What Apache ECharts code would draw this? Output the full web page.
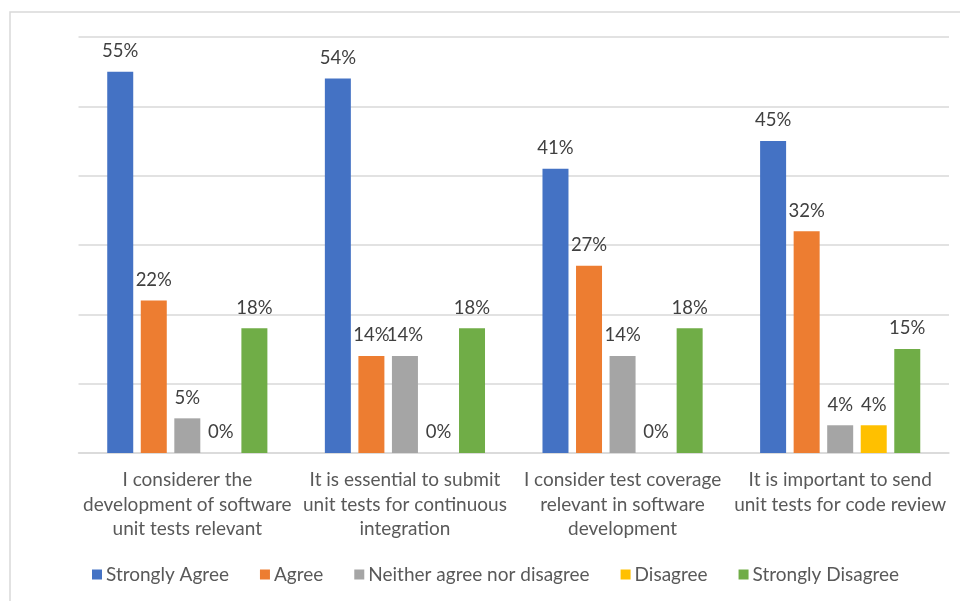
<!DOCTYPE html>
<html>
<head>
<meta charset="utf-8">
<script src="https://cdn.jsdelivr.net/npm/echarts@6/dist/echarts.min.js"></script>
<style>
  html, body { margin: 0; padding: 0; background: #ffffff; }
  #chart { width: 960px; height: 601px; }
</style>
</head>
<body>
<div id="chart"></div>
<script>
// Survey statements (x-axis categories)
const categories = [
  'I considerer the\ndevelopment of software\nunit tests relevant',
  'It is essential to submit\nunit tests for continuous\nintegration',
  'I consider test coverage\nrelevant in software\ndevelopment',
  'It is important to send\nunit tests for code review'
];

// Response shares in percent, one array per answer
const stronglyAgree    = [55, 54, 41, 45];
const agree            = [22, 14, 27, 32];
const neither          = [5, 14, 14, 4];
const disagree         = [0, 0, 0, 4];
const stronglyDisagree = [18, 18, 18, 15];

const seriesNames = ['Strongly Agree', 'Agree', 'Neither agree nor disagree', 'Disagree', 'Strongly Disagree'];
const seriesData = [stronglyAgree, agree, neither, disagree, stronglyDisagree];
const colors = ['#4472C4', '#ED7D31', '#A5A5A5', '#FFC000', '#70AD47'];

const FONT = 'Lato, "Open Sans", sans-serif';

const chart = echarts.init(document.getElementById('chart'), null, { renderer: 'canvas' });

chart.setOption({
  backgroundColor: '#ffffff',
  animation: false,
  color: colors,
  graphic: [{
    type: 'rect',
    shape: { x: 10, y: 12, width: 960, height: 600 },
    style: { fill: 'none', stroke: '#d9d9d9', lineWidth: 1.5 },
    silent: true,
    z: -10
  }],
  grid: { left: 78.5, right: 11, top: 37, bottom: 148, containLabel: false },
  legend: {
    top: 560,
    left: 87,
    itemWidth: 10,
    itemHeight: 10,
    itemGap: 31,
    icon: 'rect',
    textStyle: { fontFamily: FONT, fontSize: 19, color: '#595959', padding: [0, 0, 0, -1] },
    data: seriesNames
  },
  xAxis: {
    type: 'category',
    data: categories,
    axisLine: { lineStyle: { color: '#d9d9d9', width: 1.5 } },
    axisTick: { show: false },
    axisLabel: {
      interval: 0,
      margin: 15,
      fontFamily: FONT,
      fontSize: 19,
      lineHeight: 24.5,
      color: '#595959',
      align: 'center'
    }
  },
  yAxis: {
    type: 'value',
    min: 0,
    max: 60,
    interval: 10,
    axisLabel: { show: false },
    axisLine: { show: false },
    axisTick: { show: false },
    splitLine: { lineStyle: { color: '#d9d9d9', width: 1.5 } }
  },
  series: seriesNames.map((name, i) => ({
    name: name,
    type: 'bar',
    data: seriesData[i],
    barWidth: 26,
    barGap: '29%',
    itemStyle: { color: colors[i] },
    label: {
      show: true,
      position: 'top',
      distance: 11,
      formatter: p => p.value + '%',
      fontFamily: FONT,
      fontSize: 18.5,
      color: '#404040'
    }
  }))
});
</script>
</body>
</html>
